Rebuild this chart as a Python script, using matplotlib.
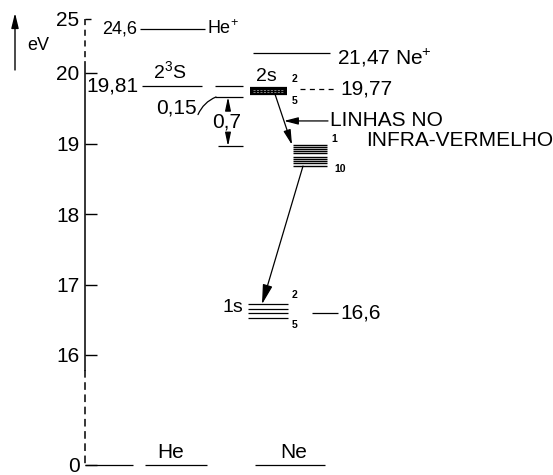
import numpy as np
import matplotlib
matplotlib.use("Agg")
import matplotlib.pyplot as plt
from matplotlib import font_manager

installed = {f.name for f in font_manager.fontManager.ttflist}
FONT = "Liberation Sans" if "Liberation Sans" in installed else "DejaVu Sans"
plt.rcParams["font.family"] = [FONT, "DejaVu Sans"]
plt.rcParams["mathtext.fontset"] = "custom"
plt.rcParams["mathtext.rm"] = FONT
plt.rcParams["mathtext.default"] = "regular"

# energy levels in eV
HE_ION = 24.6
NE_ION = 21.47
HE_2S = 19.81
HE_SPLIT = [19.81, 19.66, 18.96]          # 0.15 and 0.7 gaps
NE_2S = [19.79, 19.76, 19.73, 19.70]
NE_2S_REF = 19.77
NE_3P = [18.98, 18.95, 18.92, 18.89, 18.86, 18.81, 18.78, 18.75, 18.72, 18.68]
NE_1S = [16.72, 16.65, 16.60, 16.52]
NE_1S_REF = 16.6
GROUND = 0.0
TICKS = [0, 16, 17, 18, 19, 20]
TOP_TICK = 25

# broken energy axis: 0-16 squeezed, 16-20 to scale, above 20 squeezed again
E_KNOTS = [-2, 0, 16, 20, 21.5, 24.5, 25, 27]
H_KNOTS = [-3.75, 10, 120, 402, 422, 444, 456, 511]


def fwd(e):
    return np.interp(e, E_KNOTS, H_KNOTS)


def inv(h):
    return np.interp(h, H_KNOTS, E_KNOTS)


LW = 0.9
FS = 15


def arrow(ax, tail, tip, hl=0.8, hw=0.18, lw=LW):
    ax.annotate("", xy=tip, xytext=tail,
                arrowprops=dict(arrowstyle=f"-|>,head_length={hl},head_width={hw}",
                                lw=lw, color="k", shrinkA=0, shrinkB=0),
                annotation_clip=False)


def small(ax, x, e, s, dy, va):
    ax.annotate(s, xy=(x, e), xytext=(0, dy), textcoords="offset points",
                fontsize=7.5, fontweight="bold", ha="left", va=va)


fig = plt.figure(figsize=(5.53, 4.75), dpi=100)
ax = fig.add_axes([85 / 553, 0, 468 / 553, 1])
ax.set_xlim(85, 553)
ax.set_yscale("function", functions=(fwd, inv))
ax.set_ylim(inv(0), inv(475))
for s in ax.spines.values():
    s.set_visible(False)
ax.set_xticks([])
ax.set_yticks(TICKS, [str(t) for t in TICKS])
ax.set_yticks([TOP_TICK], [str(TOP_TICK)], minor=True)
ax.tick_params(axis="y", which="both", direction="in", width=1.0, pad=4,
               labelsize=FS, color="k")
ax.tick_params(axis="y", which="major", length=8.5)
ax.tick_params(axis="y", which="minor", length=4)

# energy axis: dashed where it is broken
ax.plot([85, 85], [TOP_TICK, 20.8], ls=(0, (4, 3)), lw=1.1, color="k", clip_on=False)
ax.plot([85, 85], [20.8, 13.8], lw=1.1, color="k", clip_on=False)
ax.plot([85, 85], [13.8, GROUND], ls=(0, (5, 3)), lw=1.1, color="k", clip_on=False)

# eV arrow
ax.annotate("", xy=(15, 462), xytext=(15, 405), xycoords="figure pixels",
            arrowprops=dict(arrowstyle="-|>,head_length=0.9,head_width=0.22",
                            lw=1.0, color="k", shrinkA=0, shrinkB=0))
fig.text(27 / 553, 1 - 45 / 475, "eV", fontsize=13, ha="left", va="center")

# ground states
ax.hlines(GROUND, 85, 133, lw=LW, color="k", clip_on=False)
ax.hlines(GROUND, 145, 207, lw=LW, color="k", clip_on=False)
ax.hlines(GROUND, 255, 325, lw=LW, color="k", clip_on=False)
ax.annotate("He", xy=(171, GROUND), xytext=(0, 2), textcoords="offset points",
            fontsize=FS, ha="center", va="bottom")
ax.annotate("Ne", xy=(294, GROUND), xytext=(0, 2), textcoords="offset points",
            fontsize=FS, ha="center", va="bottom")

# He side
ax.hlines(HE_ION, 140, 205, lw=LW, color="k")
ax.text(137, HE_ION, "24,6", fontsize=13, ha="right", va="center")
ax.text(207, HE_ION, "He$^{+}$", fontsize=13, ha="left", va="center")

ax.hlines(HE_2S, 142, 202, lw=LW, color="k")
ax.text(138, HE_2S, "19,81", fontsize=FS, ha="right", va="center")
ax.annotate("2$^{3}$S", xy=(170, HE_2S), xytext=(0, 3), textcoords="offset points",
            fontsize=14, ha="center", va="bottom")

ax.hlines(HE_SPLIT[:2], 215, 243, lw=LW, color="k")
ax.hlines(HE_SPLIT[2], 218, 243, lw=LW, color="k")
ax.annotate("", xy=(216, HE_SPLIT[1]), xytext=(198, 19.41),
            arrowprops=dict(arrowstyle="-", lw=LW, color="k", shrinkA=0, shrinkB=0,
                            connectionstyle="arc3,rad=-0.2"))
ax.text(197, 19.50, "0,15", fontsize=FS, ha="right", va="center")
mid = (HE_SPLIT[1] + HE_SPLIT[2]) / 2
ax.text(227, mid, "0,7", fontsize=FS, ha="center", va="center")
arrow(ax, (228, 19.47), (228, HE_SPLIT[1]), hl=0.8, hw=0.17)
arrow(ax, (228, 19.12), (228, HE_SPLIT[2]), hl=0.8, hw=0.17)

# Ne side
ax.hlines(NE_ION, 253, 330, lw=LW, color="k")
ax.annotate("21,47 Ne$^{+}$", xy=(337, NE_ION), xytext=(0, -3), textcoords="offset points",
            fontsize=FS, ha="left", va="center")

ax.hlines(NE_2S, 250, 287, lw=1.6, color="k")
ax.hlines(NE_2S[1:3], 253, 284, lw=0.5, color="0.7", ls=(0, (3, 2)))
ax.annotate("2s", xy=(266, NE_2S[0]), xytext=(0, 2), textcoords="offset points",
            fontsize=14, ha="center", va="bottom")
small(ax, 292, NE_2S[0], "2", 3, "bottom")
small(ax, 292, NE_2S[-1], "5", -1, "top")
ax.hlines(NE_2S_REF, 300, 337, lw=LW, color="k", ls=(0, (4, 3.5)))
ax.text(340, NE_2S_REF, "19,77", fontsize=FS, ha="left", va="center")

ax.hlines(NE_3P, 293, 327, lw=1.0, color="k")
small(ax, 331, NE_3P[0], "1", 1, "bottom")
small(ax, 334, NE_3P[-1], "10", -2, "center")

ax.hlines(NE_1S, 248, 288, lw=LW, color="k")
ax.text(243, 16.68, "1s", fontsize=14, ha="right", va="center")
small(ax, 292, NE_1S[0], "2", 3, "bottom")
small(ax, 292, NE_1S[-1], "5", -1, "top")
ax.hlines(NE_1S_REF, 312, 338, lw=LW, color="k")
ax.text(340, NE_1S_REF, "16,6", fontsize=FS, ha="left", va="center")

# laser transitions
arrow(ax, (275, NE_2S[-1]), (292, NE_3P[0]), hl=0.9, hw=0.22)
arrow(ax, (303, NE_3P[-1]), (262, NE_1S[0]), hl=1.2, hw=0.3)

ax.annotate("", xy=(284, 19.32), xytext=(328, 19.32),
            arrowprops=dict(arrowstyle="-|>,head_length=0.85,head_width=0.22",
                            lw=LW, color="k", shrinkA=0, shrinkB=0))
ax.text(330, 19.32, "LINHAS NO", fontsize=FS, ha="left", va="center")
ax.text(366, 19.04, "INFRA-VERMELHO", fontsize=FS, ha="left", va="center")

fig.savefig("out.png", dpi=100)
